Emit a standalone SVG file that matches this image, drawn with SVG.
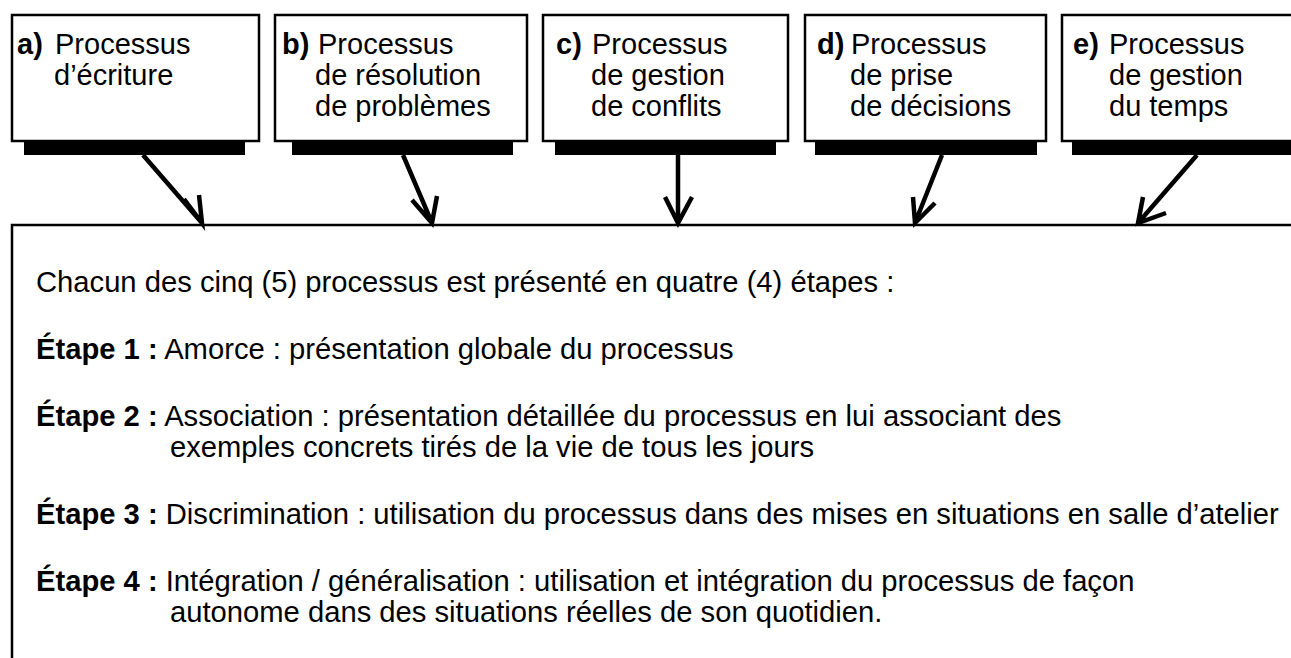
<svg xmlns="http://www.w3.org/2000/svg" width="1291" height="658" viewBox="0 0 1291 658">
<style>
.box{fill:#fff;stroke:#000;stroke-width:2.5}
.sh{fill:#000}
.t{font-family:"Liberation Sans",Arial,sans-serif;font-size:29px;fill:#000}
.m{font-size:29.2px}
.b{font-weight:bold}
.arr{stroke:#000;stroke-width:4.5;fill:none;stroke-linejoin:miter}
</style>
<rect x="0" y="0" width="1291" height="658" fill="#fff"/>
<g id="main">
<rect class="box" x="12" y="225" width="1300" height="460"/>
<text class="t m" x="36" y="292">Chacun des cinq (5) processus est présenté en quatre (4) étapes :</text>
<text class="t m" x="36" y="359"><tspan class="b">Étape 1 :</tspan> Amorce : présentation globale du processus</text>
<text class="t m" x="36" y="426"><tspan class="b">Étape 2 :</tspan> Association : présentation détaillée du processus en lui associant des</text>
<text class="t m" x="170" y="457">exemples concrets tirés de la vie de tous les jours</text>
<text class="t m" x="36" y="524"><tspan class="b">Étape 3 :</tspan> Discrimination : utilisation du processus dans des mises en situations en salle d’atelier</text>
<text class="t m" x="36" y="591"><tspan class="b">Étape 4 :</tspan> Intégration / généralisation : utilisation et intégration du processus de façon</text>
<text class="t m" x="170" y="622">autonome dans des situations réelles de son quotidien.</text>
</g>
<g id="node-a">
<rect class="sh" x="24" y="141" width="221" height="14"/>
<rect class="box" x="12" y="15" width="247" height="126"/>
<text class="t" y="54"><tspan class="b" x="17">a)</tspan><tspan x="55">Processus</tspan></text>
<text class="t" x="54" y="85">d’écriture</text>
</g>
<g id="node-b">
<rect class="sh" x="292" y="141" width="221" height="14"/>
<rect class="box" x="275" y="15" width="252" height="126"/>
<text class="t" y="54"><tspan class="b" x="282">b)</tspan><tspan x="318">Processus</tspan></text>
<text class="t" x="315" y="85">de résolution</text>
<text class="t" x="315" y="116">de problèmes</text>
</g>
<g id="node-c">
<rect class="sh" x="555" y="141" width="221" height="14"/>
<rect class="box" x="543" y="15" width="245" height="126"/>
<text class="t" y="54"><tspan class="b" x="556">c)</tspan><tspan x="592">Processus</tspan></text>
<text class="t" x="591" y="85">de gestion</text>
<text class="t" x="591" y="116">de conflits</text>
</g>
<g id="node-d">
<rect class="sh" x="815" y="141" width="222" height="14"/>
<rect class="box" x="805" y="15" width="241" height="126"/>
<text class="t" y="54"><tspan class="b" x="817">d)</tspan><tspan x="851">Processus</tspan></text>
<text class="t" x="850" y="85">de prise</text>
<text class="t" x="850" y="116">de décisions</text>
</g>
<g id="node-e">
<rect class="sh" x="1072" y="141" width="240" height="14"/>
<rect class="box" x="1062" y="15" width="250" height="126"/>
<text class="t" y="54"><tspan class="b" x="1073">e)</tspan><tspan x="1109">Processus</tspan></text>
<text class="t" x="1109" y="85">de gestion</text>
<text class="t" x="1109" y="116">du temps</text>
</g>
<g id="connectors" class="arr">
<path d="M143 155 L202 223 M184 199 L202 223 L199 195"/>
<path d="M403 155 L432 223 M412 200 L432 223 L437 196"/>
<path d="M678 155 L678 223 M665 197 L678 223 L692 197"/>
<path d="M942 155 L915 223 M913 197 L915 223 L935 203"/>
<path d="M1197 155 L1138 223 M1143 197 L1138 223 L1166 213"/>
</g>
</svg>
